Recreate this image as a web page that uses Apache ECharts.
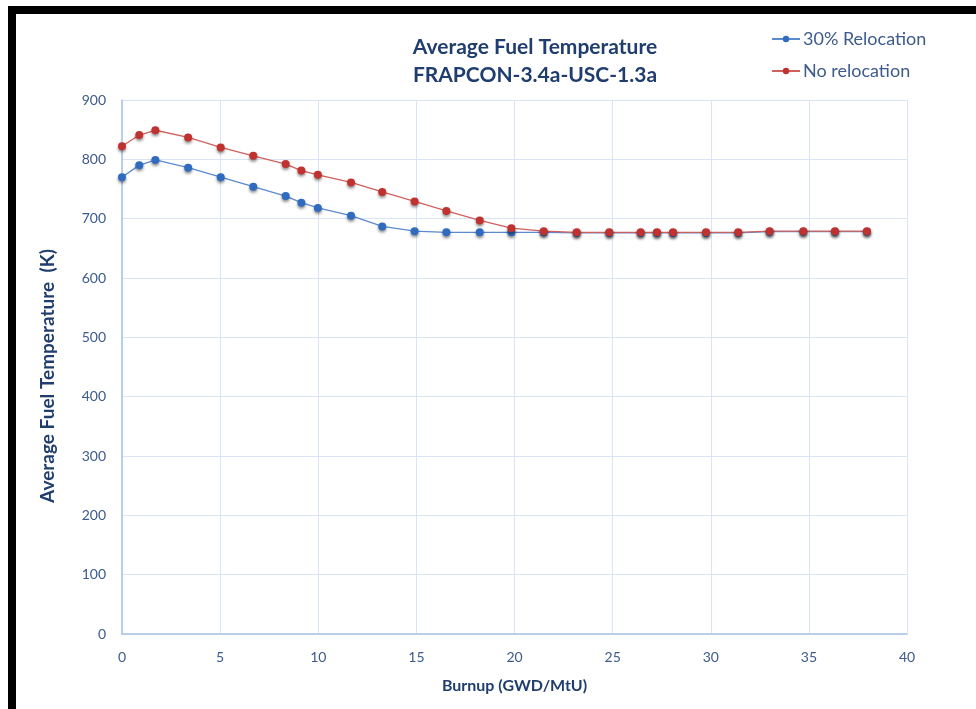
<!DOCTYPE html>
<html>
<head>
<meta charset="utf-8">
<script src="https://cdn.jsdelivr.net/npm/echarts@6/dist/echarts.min.js"></script>
<style>
  html, body { margin: 0; padding: 0; background: #fff; }
  #chart { position: absolute; left: 0; top: 0; width: 976px; height: 709px; }
  .frame {
    position: absolute; left: 8px; top: 6px;
    width: 990px; height: 700px;
    border: 8px solid #000;
    pointer-events: none;
  }
</style>
</head>
<body>
<div id="chart"></div>
<div class="frame"></div>
<script>
// burnup (GWD/MtU)
var burnup = [0, 0.88, 1.7, 3.37, 5.03, 6.69, 8.34, 9.14, 9.98, 11.67, 13.26, 14.91, 16.53, 18.23,
  19.84, 21.49, 23.17, 24.83, 26.43, 27.26, 28.08, 29.76, 31.4, 33.0, 34.72, 36.33, 37.96]
// average fuel temperature (K)
var relocation30 = [770, 790, 799, 786, 770, 754, 738, 727, 718, 705, 687, 679, 677, 677,
  677, 677, 676, 676, 676, 676, 676, 676, 676, 678, 678, 678, 678]
var noRelocation = [822, 841, 849, 837, 820, 806, 792, 781, 774, 761, 745, 729, 713, 697,
  684, 679, 677, 677, 677, 677, 677, 677, 677, 679, 679, 679, 679]

var FONT = 'Lato, "Open Sans", sans-serif'
var txtColor = '#3c5a8c'
var nameColor = '#1f3d6e'

function pairs (xs, ys) {
  var out = []
  for (var i = 0; i < xs.length; i++) out.push([xs[i], ys[i]])
  return out
}

function lineSeries (name, data, lineColor, dotColor) {
  return {
    name: name,
    type: 'line',
    data: data,
    symbol: 'circle',
    symbolSize: 8,
    lineStyle: { color: lineColor, width: 1.3 },
    itemStyle: {
      color: dotColor,
      shadowBlur: 3,
      shadowColor: 'rgba(0,0,0,0.45)',
      shadowOffsetY: 2
    },
    emphasis: { disabled: true }
  }
}

var chart = echarts.init(document.getElementById('chart'))
chart.setOption({
  animation: false,
  backgroundColor: '#fff',
  title: {
    text: 'Average Fuel Temperature\nFRAPCON-3.4a-USC-1.3a',
    left: 530,
    top: 28,
    textAlign: 'center',
    textStyle: {
      fontFamily: FONT,
      fontSize: 21,
      fontWeight: 'bold',
      color: nameColor,
      lineHeight: 28
    }
  },
  legend: {
    orient: 'vertical',
    left: 766,
    top: 25,
    itemGap: 14,
    itemWidth: 28,
    itemHeight: 8,
    textStyle: { fontFamily: FONT, fontSize: 18, color: txtColor, padding: [0, 0, 0, -2] },
    data: ['30% Relocation', 'No relocation']
  },
  grid: { left: 122, right: 69, top: 100, bottom: 75 },
  xAxis: {
    type: 'value',
    min: 0,
    max: 40,
    interval: 5,
    name: 'Burnup (GWD/MtU)',
    nameLocation: 'middle',
    nameGap: 44,
    nameTextStyle: { fontFamily: FONT, fontSize: 16, fontWeight: 'bold', color: nameColor },
    axisLine: { lineStyle: { color: '#a8c2e6', width: 1.5 } },
    axisTick: { show: false },
    axisLabel: { fontFamily: FONT, fontSize: 14, color: txtColor, margin: 16 },
    splitLine: { lineStyle: { color: '#d9e5f4' } }
  },
  yAxis: {
    type: 'value',
    min: 0,
    max: 900,
    interval: 100,
    axisLine: { show: true, lineStyle: { color: '#a8c2e6', width: 1.5 } },
    axisTick: { show: false },
    axisLabel: { fontFamily: FONT, fontSize: 14, color: txtColor, margin: 16 },
    splitLine: { lineStyle: { color: '#d9e5f4' } }
  },
  graphic: [{
    type: 'text',
    x: 48,
    y: 376,
    rotation: Math.PI / 2,
    style: {
      text: 'Average Fuel Temperature  (K)',
      fontFamily: FONT,
      fontSize: 19,
      fontWeight: 'bold',
      fill: nameColor,
      align: 'center',
      verticalAlign: 'middle'
    }
  }],
  series: [
    lineSeries('30% Relocation', pairs(burnup, relocation30), '#5b8ad0', '#2f6cbf'),
    lineSeries('No relocation', pairs(burnup, noRelocation), '#d0605c', '#c0322f')
  ]
})
</script>
</body>
</html>
